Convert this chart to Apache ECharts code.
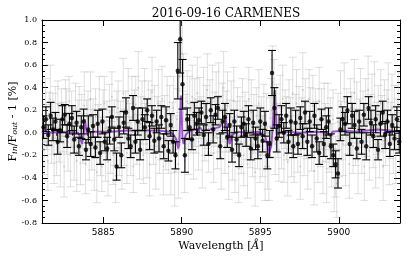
<!DOCTYPE html>
<html><head><meta charset="utf-8">
<script src="https://cdn.jsdelivr.net/npm/echarts@6/dist/echarts.min.js"></script>
<style>html,body{margin:0;padding:0;background:#fff}#c{width:407px;height:256px}</style>
</head><body><div id="c"></div>
<script>
// ---- data ----
const titleText = '2016-09-16 CARMENES';
const xMin = 5881.1, xMax = 5903.9;
const xMajorTicks = [5885, 5890, 5895, 5900];
const xMinorTicks = [5882,5883,5884,5886,5887,5888,5889,5891,5892,5893,5894,5896,5897,5898,5899,5901,5902,5903];
const yMin = -0.8, yMax = 1.0, yStep = 0.2;

// binned (black) points: wavelength grid start/step
const binStart = 5881.2, binStep = 0.15;
const binY = [
 0.05,0.12,-0.02,0.15,0.03,0.1,-0.08,0.02,0.12,0.16,
 -0.03,0.08,0.13,-0.06,0.09,-0.12,0.05,0.1,-0.15,0.03,
 -0.1,0.06,-0.13,0.08,-0.18,0.1,-0.08,-0.14,0.02,0.14,
 -0.06,-0.3,0.05,-0.2,0.09,0.18,-0.05,-0.12,0.22,-0.08,
 0.1,-0.15,0.12,0.05,0.2,-0.03,0.15,-0.07,0.1,-0.05,
 0.14,-0.12,0.11,-0.16,0.07,-0.08,-0.2,0.55,0.83,0.43,
 -0.2,0.12,0.05,-0.06,0.15,0.08,0.11,0.18,-0.02,0.14,
 -0.1,0.2,0.03,0.16,0.22,-0.12,0.1,0.14,-0.04,0.07,
 -0.15,0.1,-0.06,-0.2,0.05,0.08,-0.02,0.12,-0.14,0.09,
 -0.05,-0.12,0.1,-0.07,0.08,-0.2,-0.1,0.53,0.22,-0.05,
 0.06,0.12,0.0,0.15,-0.08,0.1,-0.12,0.09,-0.1,0.13,
 -0.03,0.18,-0.08,0.1,-0.12,0.15,-0.05,-0.18,0.12,-0.1,
 0.05,0.1,-0.12,-0.2,-0.28,-0.36,0.03,0.12,0.08,0.2,
 -0.1,0.15,0.07,-0.14,0.1,-0.08,0.16,-0.12,0.22,0.09,
 -0.03,0.12,-0.15,0.08,0.18,-0.02,0.1,-0.1,0.07,-0.05,
 0.12,-0.08
];
const binErr = [
 0.1,0.11,0.09,0.12,0.1,0.08,0.11,0.1,0.12,0.09,
 0.1,0.09,0.11,0.12,0.1,0.08,0.1,0.11,0.09,0.12,
 0.11,0.1,0.09,0.12,0.1,0.11,0.08,0.1,0.12,0.09,
 0.1,0.12,0.09,0.11,0.1,0.13,0.09,0.1,0.11,0.1,
 0.12,0.09,0.1,0.11,0.1,0.12,0.09,0.11,0.1,0.12,
 0.1,0.11,0.12,0.09,0.1,0.1,0.12,0.25,0.3,0.22,
 0.15,0.1,0.11,0.09,0.12,0.1,0.11,0.1,0.09,0.12,
 0.1,0.11,0.12,0.09,0.1,0.11,0.1,0.12,0.09,0.1,
 0.11,0.1,0.12,0.1,0.09,0.11,0.1,0.12,0.1,0.11,
 0.1,0.11,0.12,0.1,0.11,0.12,0.12,0.2,0.18,0.12,
 0.1,0.12,0.09,0.11,0.1,0.12,0.1,0.11,0.09,0.1,
 0.11,0.1,0.12,0.09,0.1,0.11,0.12,0.1,0.09,0.11,
 0.1,0.12,0.11,0.1,0.12,0.13,0.1,0.11,0.1,0.12,
 0.1,0.11,0.12,0.09,0.1,0.11,0.1,0.12,0.1,0.11,
 0.1,0.12,0.09,0.11,0.1,0.12,0.1,0.11,0.09,0.1,
 0.11,0.1
];

// raw (grey) points
const rawStart = 5881.15, rawStep = 0.08;
const rawY = [
 0.1,-0.15,0.2,0.05,-0.25,0.12,0.3,-0.05,0.08,-0.2,
 0.18,-0.1,0.25,0.0,-0.18,0.15,0.05,-0.3,0.22,0.1,
 -0.08,0.28,-0.2,0.12,0.02,-0.12,0.2,-0.25,0.06,0.15,
 -0.18,0.1,-0.05,0.24,-0.28,0.04,0.16,-0.14,0.3,-0.06,
 0.08,-0.22,0.14,-0.35,0.02,0.2,-0.12,-0.3,0.1,0.26,
 -0.16,0.05,-0.26,0.18,-0.08,0.32,-0.2,0.0,-0.38,0.12,
 0.22,-0.1,0.06,-0.24,0.35,-0.04,0.14,-0.18,0.28,0.02,
 -0.12,0.2,-0.3,0.1,0.25,-0.06,0.4,-0.15,0.08,0.18,
 -0.2,0.3,0.04,-0.1,0.22,-0.28,0.12,0.36,-0.05,0.15,
 -0.22,0.08,0.26,-0.14,0.02,0.3,-0.3,0.1,-0.06,0.2,
 -0.12,0.16,-0.25,0.05,0.22,-0.35,-0.1,0.12,-0.28,0.5,
 0.85,0.7,0.4,-0.25,0.1,0.28,-0.12,0.2,0.04,0.32,
 -0.15,0.18,0.06,0.35,-0.08,0.22,0.1,-0.2,0.28,0.0,
 0.14,0.38,-0.1,0.2,0.05,0.3,-0.18,0.12,0.25,-0.05,
 0.32,0.08,-0.22,0.18,0.4,-0.12,0.1,0.24,-0.3,0.06,
 0.2,-0.14,0.28,-0.26,0.04,0.15,-0.32,0.1,-0.08,0.22,
 -0.2,0.12,0.02,-0.28,0.3,-0.06,0.18,-0.16,0.08,-0.35,
 0.15,-0.04,0.26,-0.2,0.06,-0.12,0.2,-0.3,0.1,-0.22,
 -0.3,0.05,0.2,0.45,0.35,-0.1,0.18,0.02,-0.15,0.25,
 -0.05,0.3,-0.2,0.12,0.04,-0.26,0.22,0.08,-0.12,0.35,
 -0.18,0.1,0.26,-0.08,0.16,-0.3,0.05,0.38,-0.14,0.2,
 0.02,-0.22,0.3,0.1,-0.1,0.24,-0.34,0.14,0.06,-0.16,
 0.28,-0.05,0.12,-0.25,0.2,0.0,-0.32,0.16,-0.1,0.08,
 -0.2,0.12,-0.4,-0.3,-0.45,0.1,-0.15,0.25,0.02,-0.1,
 0.3,-0.2,0.14,0.04,-0.28,0.22,0.08,-0.12,0.35,-0.04,
 0.18,-0.24,0.06,0.28,-0.1,0.12,-0.3,0.2,0.02,0.38,
 -0.16,0.1,0.24,-0.06,0.32,-0.22,0.04,0.16,-0.12,0.26,
 0.08,-0.3,0.2,-0.05,0.12,0.3,-0.18,0.02,0.22,-0.1,
 0.14,-0.2,0.06,0.24,-0.08
];
const rawErr = [
 0.25,0.22,0.28,0.2,0.26,0.24,0.3,0.22,0.27,0.25,
 0.23,0.28,0.21,0.26,0.3,0.24,0.22,0.27,0.25,0.29,
 0.26,0.22,0.28,0.25,0.2,0.3,0.24,0.27,0.23,0.26,
 0.28,0.24,0.22,0.3,0.26,0.25,0.21,0.28,0.24,0.27,
 0.22,0.29,0.25,0.27,0.23,0.3,0.26,0.22,0.28,0.24,
 0.27,0.23,0.3,0.25,0.28,0.22,0.26,0.29,0.24,0.25,
 0.24,0.28,0.22,0.26,0.31,0.25,0.23,0.27,0.29,0.24,
 0.26,0.3,0.23,0.28,0.25,0.22,0.32,0.26,0.24,0.28,
 0.25,0.27,0.22,0.3,0.24,0.28,0.26,0.31,0.23,0.27,
 0.28,0.24,0.3,0.22,0.26,0.29,0.25,0.23,0.27,0.3,
 0.24,0.26,0.3,0.22,0.28,0.3,0.25,0.27,0.3,0.32,
 0.35,0.33,0.3,0.28,0.24,0.27,0.25,0.3,0.22,0.28,
 0.26,0.3,0.24,0.32,0.25,0.27,0.22,0.29,0.3,0.25,
 0.28,0.32,0.25,0.27,0.23,0.3,0.26,0.24,0.29,0.27,
 0.3,0.25,0.28,0.26,0.32,0.24,0.27,0.3,0.29,0.23,
 0.26,0.28,0.3,0.27,0.24,0.25,0.3,0.22,0.28,0.26,
 0.27,0.24,0.26,0.3,0.28,0.25,0.29,0.23,0.26,0.3,
 0.25,0.28,0.3,0.24,0.26,0.27,0.23,0.3,0.25,0.28,
 0.3,0.26,0.28,0.32,0.3,0.27,0.25,0.24,0.28,0.26,
 0.27,0.3,0.24,0.26,0.28,0.3,0.25,0.23,0.27,0.32,
 0.26,0.24,0.3,0.27,0.25,0.29,0.26,0.33,0.24,0.28,
 0.25,0.28,0.26,0.3,0.24,0.27,0.3,0.25,0.22,0.28,
 0.3,0.25,0.27,0.29,0.24,0.26,0.3,0.28,0.25,0.23,
 0.28,0.26,0.3,0.27,0.3,0.25,0.24,0.3,0.26,0.28,
 0.32,0.27,0.25,0.23,0.3,0.26,0.28,0.24,0.3,0.25,
 0.27,0.3,0.24,0.29,0.26,0.25,0.3,0.28,0.23,0.3,
 0.26,0.24,0.28,0.25,0.31,0.27,0.23,0.26,0.28,0.3,
 0.25,0.3,0.27,0.24,0.26,0.32,0.28,0.25,0.3,0.26,
 0.28,0.25,0.24,0.3,0.26
];

// model (purple) line
const modelX = [5881.1,5881.3,5881.45,5881.6,5882.5,5883.4,5883.55,5883.65,5883.75,5883.82,5883.95,5884.5,5885.5,5886.5,5887.5,5888.5,5889.2,5889.5,5889.65,5889.78,5889.85,5889.9,5889.95,5890.0,5890.05,5890.12,5890.25,5890.5,5891.0,5891.15,5891.3,5891.8,5892.4,5892.65,5892.78,5892.9,5893.05,5893.2,5893.5,5894.2,5894.9,5895.3,5895.45,5895.55,5895.7,5895.8,5895.88,5895.93,5895.98,5896.05,5896.2,5896.6,5897.5,5898.5,5899.3,5899.45,5899.6,5900.3,5901.0,5901.8,5902.5,5903.2,5903.9];
const modelY = [0.0,0.03,-0.01,0.0,0.01,0.0,-0.05,-0.1,0.0,0.12,0.0,0.01,0.01,0.02,0.02,0.02,0.01,-0.02,-0.06,-0.14,-0.1,0.15,0.33,0.15,-0.05,-0.1,-0.02,0.02,0.03,0.05,0.02,0.03,0.05,0.1,0.14,0.02,-0.1,-0.02,0.01,0.0,0.01,-0.03,-0.1,-0.18,-0.12,0.05,0.3,0.38,0.2,-0.02,0.0,0.01,0.0,0.01,0.0,-0.03,0.01,0.02,0.01,0.02,0.03,0.02,0.01];

// ---- build ----
const binData = binY.map((v, i) => [binStart + i * binStep, v, binErr[i]]);
const rawData = rawY.map((v, i) => [rawStart + i * rawStep, v, rawErr[i]]);
const modelData = modelX.map((x, i) => [x, modelY[i]]);

function errRender(color, capHalf, lw) {
  return function (params, api) {
    const x = api.value(0), y = api.value(1), e = api.value(2);
    const hi = api.coord([x, y + e]);
    const lo = api.coord([x, y - e]);
    const st = { stroke: color, lineWidth: lw, fill: null };
    return { type: 'group', children: [
      { type: 'line', shape: { x1: hi[0], y1: hi[1], x2: lo[0], y2: lo[1] }, style: st },
      { type: 'line', shape: { x1: hi[0] - capHalf, y1: hi[1], x2: hi[0] + capHalf, y2: hi[1] }, style: st },
      { type: 'line', shape: { x1: lo[0] - capHalf, y1: lo[1], x2: lo[0] + capHalf, y2: lo[1] }, style: st }
    ]};
  };
}

const serif = 'DejaVu Serif';
const sans = 'DejaVu Sans';
const gridBox = { left: 42, right: 7, top: 20, bottom: 33, containLabel: false, outerBoundsMode: 'none' };
const axisLine = { show: true, onZero: false, lineStyle: { color: '#000', width: 1 } };

const chart = echarts.init(document.getElementById('c'), null, { renderer: 'canvas' });
chart.setOption({
  animation: false,
  backgroundColor: '#fff',
  title: { text: titleText, left: 221, textAlign: 'center', top: 3,
    textStyle: { fontFamily: serif, fontSize: 12, fontWeight: 'normal', color: '#000' } },
  grid: [Object.assign({ show: false }, gridBox), Object.assign({ show: false }, gridBox)],
  xAxis: [
    { gridIndex: 0, type: 'value', min: xMin, max: xMax, position: 'bottom',
      axisLine: axisLine, splitLine: { show: false },
      axisTick: { show: true, inside: true, length: 6, customValues: xMajorTicks, lineStyle: { color: '#000' } },
      axisLabel: { show: true, customValues: xMajorTicks, margin: 5, fontFamily: sans, fontSize: 9, color: '#000',
        formatter: v => String(v) },
      name: 'Wavelength [{it|Å}]', nameLocation: 'middle', nameGap: 18, nameMoveOverlap: false,
      nameTextStyle: { fontFamily: serif, fontSize: 11, color: '#000',
        rich: { it: { fontFamily: serif, fontSize: 11, fontStyle: 'italic', color: '#000' } } } },
    { gridIndex: 0, type: 'value', min: xMin, max: xMax, position: 'top',
      axisLine: axisLine, splitLine: { show: false },
      axisTick: { show: true, inside: true, length: 6, customValues: xMajorTicks, lineStyle: { color: '#000' } },
      axisLabel: { show: false } },
    { gridIndex: 1, type: 'value', min: xMin, max: xMax, position: 'bottom',
      axisLine: { show: false }, splitLine: { show: false },
      axisTick: { show: true, inside: true, length: 3, customValues: xMinorTicks, lineStyle: { color: '#000' } },
      axisLabel: { show: false } },
    { gridIndex: 1, type: 'value', min: xMin, max: xMax, position: 'top',
      axisLine: { show: false }, splitLine: { show: false },
      axisTick: { show: true, inside: true, length: 3, customValues: xMinorTicks, lineStyle: { color: '#000' } },
      axisLabel: { show: false } }
  ],
  yAxis: [
    { gridIndex: 0, type: 'value', min: yMin, max: yMax, interval: yStep, position: 'left',
      axisLine: axisLine, splitLine: { show: false },
      axisTick: { show: true, inside: true, length: 6, lineStyle: { color: '#000' } },
      minorTick: { show: true, splitNumber: 4, length: 3, lineStyle: { color: '#000' } },
      axisLabel: { margin: 5, fontFamily: serif, fontSize: 8, color: '#000', formatter: v => v.toFixed(1) },
      name: 'F{sub|in}/F{sub|out} - 1 [%]', nameLocation: 'middle', nameGap: 23, nameMoveOverlap: false,
      nameTextStyle: { fontFamily: serif, fontSize: 11, color: '#000',
        rich: { sub: { fontFamily: serif, fontSize: 8, fontStyle: 'italic', color: '#000', padding: [4, 0, 0, 0] } } } },
    { gridIndex: 0, type: 'value', min: yMin, max: yMax, interval: yStep, position: 'right',
      axisLine: axisLine, splitLine: { show: false },
      axisTick: { show: true, inside: true, length: 6, lineStyle: { color: '#000' } },
      minorTick: { show: true, splitNumber: 4, length: 3, lineStyle: { color: '#000' } },
      axisLabel: { show: false } },
    { gridIndex: 1, type: 'value', min: yMin, max: yMax, show: false },
    { gridIndex: 1, type: 'value', min: yMin, max: yMax, show: false, position: 'right' }
  ],
  series: [
    { type: 'custom', xAxisIndex: 0, yAxisIndex: 0, clip: true, silent: true,
      renderItem: errRender('rgba(170,170,170,0.38)', 4, 1), data: rawData, z: 1 },
    { type: 'scatter', xAxisIndex: 0, yAxisIndex: 0, symbolSize: 2, silent: true,
      itemStyle: { color: 'rgba(150,150,150,0.5)' }, data: rawData.map(d => [d[0], d[1]]), z: 2 },
    { type: 'line', xAxisIndex: 0, yAxisIndex: 0, showSymbol: false, silent: true,
      lineStyle: { color: '#8e44c4', width: 2, opacity: 0.9 }, data: modelData, z: 3 },
    { type: 'custom', xAxisIndex: 0, yAxisIndex: 0, clip: true, silent: true,
      renderItem: errRender('#000', 4, 1.1), data: binData, z: 4 },
    { type: 'scatter', xAxisIndex: 0, yAxisIndex: 0, symbolSize: 4.5, silent: true,
      itemStyle: { color: '#000' }, data: binData.map(d => [d[0], d[1]]), z: 5 }
  ]
});
</script></body></html>
